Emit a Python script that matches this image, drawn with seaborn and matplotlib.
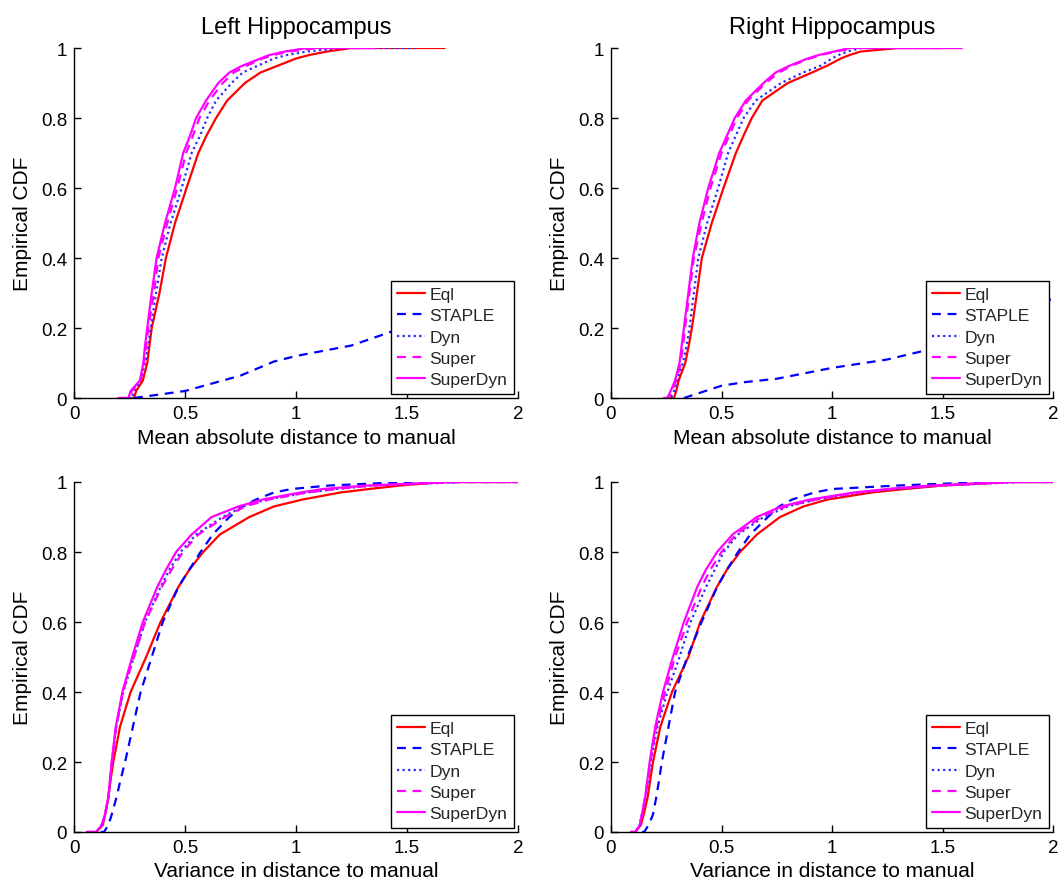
import numpy as np
import pandas as pd
import matplotlib
matplotlib.use("Agg")
import matplotlib.pyplot as plt
import seaborn as sns

sns.set_theme(style="white")
plt.rcParams['font.family'] = ['Liberation Sans', 'DejaVu Sans']

# CDF levels shared by the curves (y values); first entry = start of line, last = end of flat top
cdf_levels = [0.0, 0.0, 0.02, 0.05, 0.1, 0.15, 0.2, 0.3, 0.4, 0.5, 0.6, 0.7, 0.75, 0.8,
              0.85, 0.9, 0.93, 0.95, 0.97, 0.98, 0.99, 1.0, 1.0]

series_names = ["Eql", "STAPLE", "Dyn", "Super", "SuperDyn"]

# ---- Top-left: Left Hippocampus, mean absolute distance ----
tl_eql      = [0.25, 0.27, 0.28, 0.31, 0.33, 0.34, 0.35, 0.385, 0.414, 0.455, 0.507, 0.56, 0.597, 0.64,
               0.69, 0.77, 0.84, 0.92, 1.00, 1.06, 1.14, 1.25, 1.67]
tl_dyn      = [0.22, 0.26, 0.27, 0.30, 0.32, 0.335, 0.345, 0.37, 0.395, 0.435, 0.485, 0.53, 0.568, 0.60,
               0.64, 0.71, 0.76, 0.83, 0.90, 0.96, 1.05, 1.20, 1.55]
tl_super    = [0.20, 0.25, 0.26, 0.30, 0.315, 0.325, 0.335, 0.36, 0.38, 0.42, 0.465, 0.505, 0.536, 0.565,
               0.61, 0.67, 0.72, 0.78, 0.85, 0.90, 0.97, 1.10, 1.40]
tl_superdyn = [0.20, 0.245, 0.255, 0.297, 0.312, 0.32, 0.33, 0.35, 0.372, 0.41, 0.455, 0.492, 0.523, 0.55,
               0.595, 0.65, 0.70, 0.76, 0.84, 0.88, 0.95, 1.05, 1.33]
tl_staple_x = [0.27, 0.50, 0.75, 0.90, 1.00, 1.25, 1.45, 1.70, 2.00]
tl_staple_y = [0.00, 0.02, 0.064, 0.104, 0.12, 0.15, 0.194, 0.25, 0.326]

# ---- Top-right: Right Hippocampus, mean absolute distance ----
tr_eql      = [0.27, 0.285, 0.295, 0.306, 0.336, 0.352, 0.366, 0.389, 0.411, 0.456, 0.509, 0.565, 0.60, 0.637,
               0.685, 0.80, 0.91, 0.98, 1.04, 1.08, 1.13, 1.30, 1.586]
tr_dyn      = [0.25, 0.27, 0.285, 0.30, 0.325, 0.342, 0.355, 0.375, 0.395, 0.435, 0.485, 0.53, 0.565, 0.60,
               0.655, 0.77, 0.87, 0.95, 1.00, 1.03, 1.07, 1.13, 1.50]
tr_super    = [0.24, 0.26, 0.275, 0.295, 0.315, 0.326, 0.335, 0.355, 0.375, 0.41, 0.45, 0.50, 0.535, 0.57,
               0.62, 0.70, 0.76, 0.82, 0.90, 0.95, 1.02, 1.10, 1.50]
tr_superdyn = [0.238, 0.255, 0.27, 0.29, 0.31, 0.32, 0.33, 0.35, 0.37, 0.40, 0.44, 0.49, 0.525, 0.56,
               0.61, 0.69, 0.745, 0.81, 0.89, 0.94, 1.01, 1.08, 1.586]
tr_staple_x = [0.33, 0.50, 0.60, 0.75, 1.00, 1.25, 1.45, 1.70, 2.00]
tr_staple_y = [0.00, 0.035, 0.045, 0.055, 0.086, 0.11, 0.14, 0.20, 0.285]

# ---- Bottom-left: Left Hippocampus, variance ----
bl_eql      = [0.06, 0.10, 0.13, 0.14, 0.155, 0.165, 0.177, 0.207, 0.255, 0.325, 0.39, 0.47, 0.52, 0.582,
               0.657, 0.79, 0.90, 1.03, 1.20, 1.33, 1.47, 1.66, 2.0]
bl_staple   = [0.12, 0.135, 0.155, 0.17, 0.192, 0.21, 0.23, 0.265, 0.30, 0.35, 0.40, 0.47, 0.52, 0.57,
               0.625, 0.70, 0.76, 0.82, 0.90, 0.98, 1.15, 1.50, 2.0]
bl_dyn      = [0.06, 0.10, 0.125, 0.14, 0.155, 0.163, 0.17, 0.19, 0.222, 0.27, 0.32, 0.39, 0.43, 0.48,
               0.55, 0.67, 0.76, 0.87, 1.05, 1.18, 1.35, 1.75, 2.0]
bl_super    = [0.06, 0.10, 0.125, 0.14, 0.155, 0.163, 0.17, 0.19, 0.22, 0.27, 0.32, 0.395, 0.44, 0.49,
               0.56, 0.68, 0.77, 0.88, 1.05, 1.18, 1.35, 1.75, 2.0]
bl_superdyn = [0.057, 0.10, 0.125, 0.14, 0.155, 0.162, 0.17, 0.188, 0.218, 0.262, 0.31, 0.375, 0.415, 0.46,
               0.53, 0.62, 0.74, 0.85, 1.02, 1.12, 1.32, 1.70, 2.0]

# ---- Bottom-right: Right Hippocampus, variance ----
br_eql      = [0.09, 0.11, 0.135, 0.148, 0.166, 0.178, 0.19, 0.223, 0.276, 0.35, 0.404, 0.479, 0.525, 0.584,
               0.66, 0.765, 0.87, 0.98, 1.18, 1.33, 1.50, 1.80, 2.0]
br_staple   = [0.14, 0.15, 0.17, 0.19, 0.205, 0.218, 0.23, 0.26, 0.29, 0.345, 0.41, 0.48, 0.525, 0.575,
               0.63, 0.71, 0.76, 0.82, 0.92, 1.00, 1.30, 1.70, 2.0]
br_dyn      = [0.09, 0.11, 0.13, 0.14, 0.155, 0.168, 0.18, 0.21, 0.255, 0.31, 0.36, 0.43, 0.47, 0.51,
               0.575, 0.69, 0.80, 0.93, 1.12, 1.28, 1.50, 1.85, 2.0]
br_super    = [0.09, 0.11, 0.13, 0.14, 0.155, 0.167, 0.178, 0.205, 0.245, 0.29, 0.345, 0.41, 0.45, 0.50,
               0.565, 0.68, 0.79, 0.93, 1.12, 1.27, 1.50, 1.85, 2.0]
br_superdyn = [0.09, 0.11, 0.13, 0.14, 0.155, 0.165, 0.175, 0.20, 0.235, 0.28, 0.33, 0.39, 0.43, 0.48,
               0.55, 0.66, 0.77, 0.90, 1.10, 1.25, 1.45, 1.80, 2.0]

titles = ["Left Hippocampus", "Right Hippocampus"]
xlabels = ["Mean absolute distance to manual", "Variance in distance to manual"]
ylabel = "Empirical CDF"
x_ticks = [0, 0.5, 1, 1.5, 2]
x_ticklabels = ["0", "0.5", "1", "1.5", "2"]
y_ticks = [0, 0.2, 0.4, 0.6, 0.8, 1]
y_ticklabels = ["0", "0.2", "0.4", "0.6", "0.8", "1"]

styles = {
    "Eql":      dict(color="#ff0000", linestyle="-"),
    "STAPLE":   dict(color="#0000ff", linestyle=(0, (4, 3))),
    "Dyn":      dict(color="#2a2aff", linestyle=(0, (1, 1.5))),
    "Super":    dict(color="#ff00ff", linestyle=(0, (4, 3))),
    "SuperDyn": dict(color="#ff00ff", linestyle="-"),
}

panels = [
    {"Eql": (tl_eql, cdf_levels), "STAPLE": (tl_staple_x, tl_staple_y), "Dyn": (tl_dyn, cdf_levels),
     "Super": (tl_super, cdf_levels), "SuperDyn": (tl_superdyn, cdf_levels)},
    {"Eql": (tr_eql, cdf_levels), "STAPLE": (tr_staple_x, tr_staple_y), "Dyn": (tr_dyn, cdf_levels),
     "Super": (tr_super, cdf_levels), "SuperDyn": (tr_superdyn, cdf_levels)},
    {"Eql": (bl_eql, cdf_levels), "STAPLE": (bl_staple, cdf_levels), "Dyn": (bl_dyn, cdf_levels),
     "Super": (bl_super, cdf_levels), "SuperDyn": (bl_superdyn, cdf_levels)},
    {"Eql": (br_eql, cdf_levels), "STAPLE": (br_staple, cdf_levels), "Dyn": (br_dyn, cdf_levels),
     "Super": (br_super, cdf_levels), "SuperDyn": (br_superdyn, cdf_levels)},
]

W, H = 1061, 887
fig = plt.figure(figsize=(W / 100, H / 100), dpi=100)
boxes = [
    (74, 49, 518, 399),
    (611, 49, 1053, 399),
    (74, 483, 518, 833),
    (611, 483, 1053, 833),
]

for i, (panel, (x0, y0, x1, y1)) in enumerate(zip(panels, boxes)):
    ax = fig.add_axes([x0 / W, 1 - y1 / H, (x1 - x0) / W, (y1 - y0) / H])
    for name in series_names:
        xs, ys = panel[name]
        df = pd.DataFrame({"x": xs, "y": ys})
        sns.lineplot(data=df, x="x", y="y", ax=ax, sort=False, estimator=None,
                     lw=1.6, label=name, **styles[name])
    ax.set_xlim(0, 2)
    ax.set_ylim(0, 1)
    ax.set_xticks(x_ticks)
    ax.set_xticklabels(x_ticklabels)
    ax.set_yticks(y_ticks)
    ax.set_yticklabels(y_ticklabels)
    ax.tick_params(direction="in", length=5, width=1, labelsize=13.5, colors="black",
                   bottom=True, left=True, top=False, right=False, pad=5)
    for s in ["top", "right"]:
        ax.spines[s].set_visible(False)
    for s in ["left", "bottom"]:
        ax.spines[s].set_color("black")
        ax.spines[s].set_linewidth(1.0)
    ax.set_xlabel(xlabels[i // 2], fontsize=15, color="black", labelpad=4)
    ax.set_ylabel(ylabel, fontsize=15, color="black", labelpad=6)
    if i < 2:
        ax.set_title(titles[i % 2], fontsize=17, color="black", pad=11)
    ax.grid(False)
    leg = ax.legend(loc="lower right", fontsize=12.6, frameon=True, fancybox=False,
                    edgecolor="black", framealpha=1, handlelength=1.6, handletextpad=0.25,
                    borderpad=0.35, labelspacing=0.35, borderaxespad=0.25)
    leg.get_frame().set_linewidth(1.0)

fig.savefig("out.png", dpi=100, facecolor="white")
